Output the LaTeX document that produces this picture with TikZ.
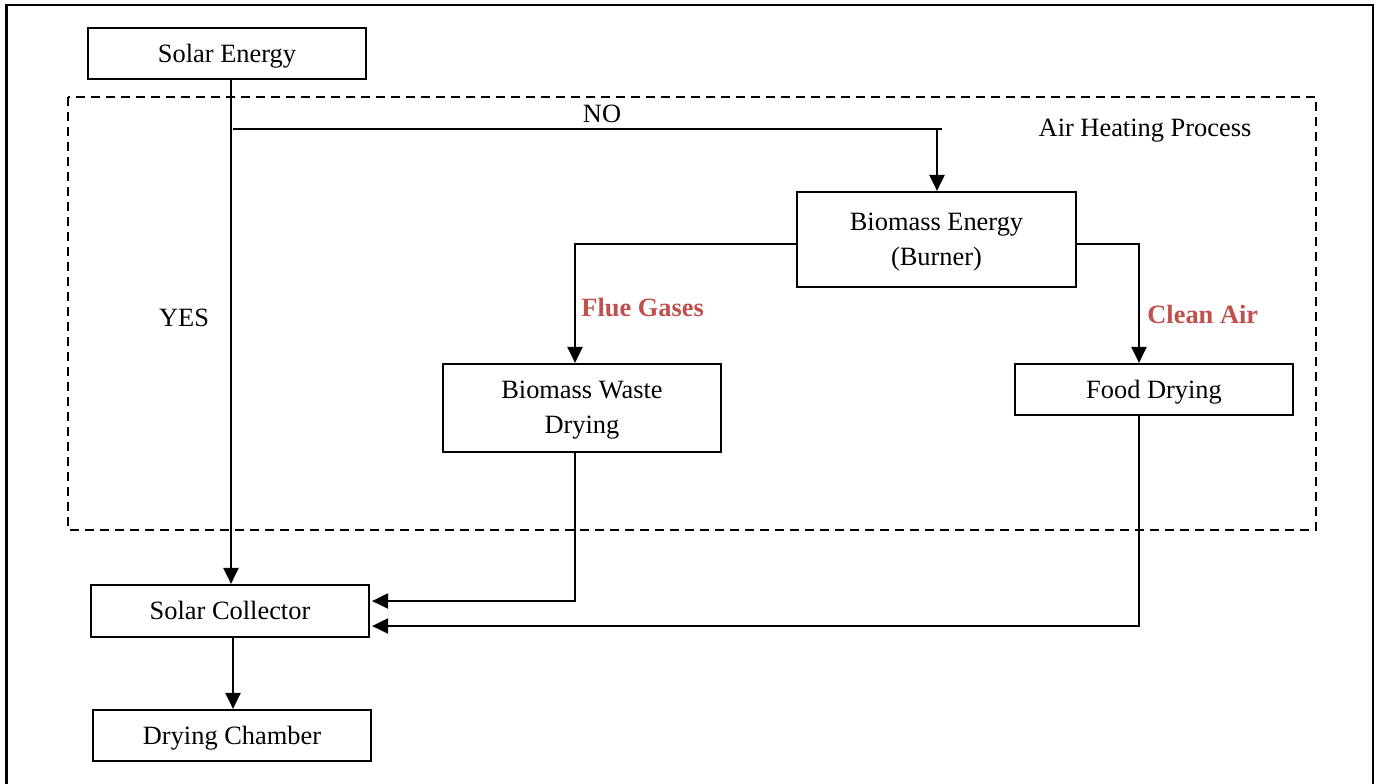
\documentclass[tikz,border=0pt]{standalone}
\usepackage{fontspec}
\setmainfont{Liberation Serif}
\usetikzlibrary{arrows.meta}
\definecolor{redlabel}{HTML}{C0504D}
\begin{document}
\begin{tikzpicture}[x=0.5pt,y=-0.5pt,
  box/.style={draw,line width=1.1pt,minimum width=139pt,inner sep=0pt,align=center,text depth=0.5pt,font=\fontsize{13.2}{17.5}\selectfont},
  conn/.style={line width=1.1pt,-{Triangle[length=8pt,width=7.5pt]}},
  plain/.style={line width=1.1pt},
  lbl/.style={font=\fontsize{13.2}{15}\selectfont,inner sep=0pt},
  rlbl/.style={font=\bfseries\fontsize{13.2}{15}\selectfont,text=redlabel,inner sep=0pt,anchor=west}]
\useasboundingbox (0,0) rectangle (1377,783);
% outer frame
\draw[line width=1.1pt] (6.5,800) -- (6.5,5) -- (1373,5) -- (1373,800);
% dashed region
\draw[line width=1.1pt,dash pattern=on 4.5pt off 3pt] (68,97) rectangle (1316,530);
% nodes
\node[box,minimum width=139pt,minimum height=25.5pt] (solar) at (227,53.5) {Solar Energy};
\node[box,minimum width=139.5pt,minimum height=47.5pt] (bio) at (936.5,239.5) {Biomass Energy\\(Burner)};
\node[box,minimum width=139pt,minimum height=44pt] (waste) at (582,408) {Biomass Waste\\Drying};
\node[box,minimum width=139pt,minimum height=25.5pt] (food) at (1154,389.5) {Food Drying};
\node[box,minimum width=139pt,minimum height=26pt] (coll) at (230,611) {Solar Collector};
\node[box,minimum width=139pt,minimum height=25.5pt] (cham) at (232,735.5) {Drying Chamber};
% labels
\node[lbl] (no) at (602,114) {NO};
\node[lbl] (yes) at (184,318) {YES};
\node[lbl] (ahp) at (1145,130.5) {Air Heating Process};
\node[rlbl] (flue) at (581,307) {Flue Gases};
\node[rlbl] (clean) at (1147,314) {Clean Air};
% connectors
\coordinate (nostart) at (233,129);
\coordinate (nocorner) at (937,129);
\draw[conn] (solar.south -| 231,0) -- (coll.north -| 231,0);
\draw[plain] (nostart) -- (942,129);
\draw[conn] (nocorner) -- (bio.north -| nocorner);
\coordinate (fluecorner) at (575,244);
\draw[conn] (bio.west |- fluecorner) -- (fluecorner) -- (waste.north -| fluecorner);
\coordinate (cleancorner) at (1139,244);
\draw[conn] (bio.east |- cleancorner) -- (cleancorner) -- (food.north -| cleancorner);
\coordinate (wastecorner) at (575,601);
\draw[conn] (waste.south -| wastecorner) -- (wastecorner) -- ([xshift=1pt]coll.east |- wastecorner);
\coordinate (foodcorner) at (1139,626);
\draw[conn] (food.south -| foodcorner) -- (foodcorner) -- ([xshift=1pt]coll.east |- foodcorner);
\draw[conn] (coll.south -| 233,0) -- (cham.north -| 233,0);
\end{tikzpicture}
\end{document}
